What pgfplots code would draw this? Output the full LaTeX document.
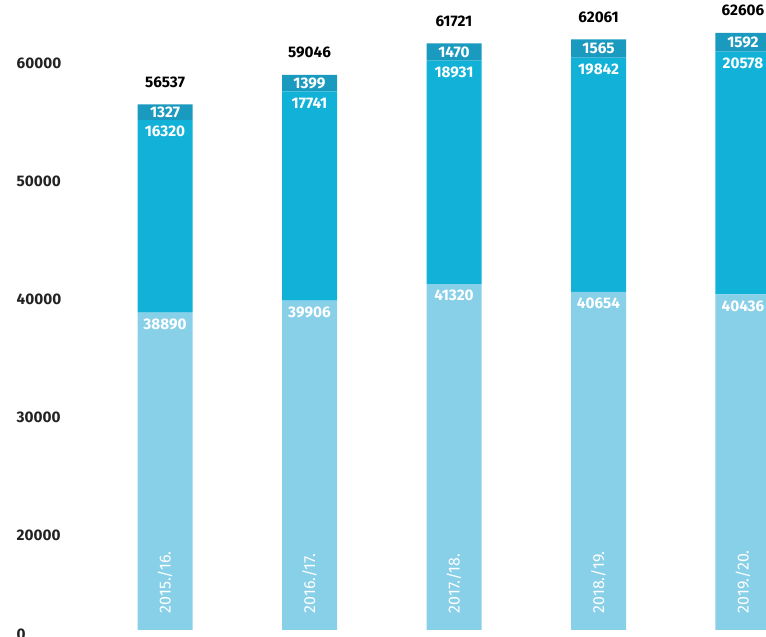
\documentclass[border=0pt]{standalone}
\usepackage{fontspec}
\setmainfont{Fira Sans}
\usepackage{pgfplots}
\usepackage{pgfplotstable}
\pgfplotsset{compat=1.18}

\definecolor{lightbar}{HTML}{88CFE8}
\definecolor{midbar}{HTML}{12B1D7}
\definecolor{darkbar}{HTML}{1B9AC0}
\definecolor{ticktext}{HTML}{222222}

% x = school year index, a = light part, b = middle part, c = top part, t = total
\pgfplotstableread{
x a b c t
0 38890 16320 1327 56537
1 39906 17741 1399 59046
2 41320 18931 1470 61721
3 40654 19842 1565 62061
4 40436 20578 1592 62606
}\students

\tikzset{numfont/.style={font=\fontsize{11.5}{13}\selectfont\bfseries}}
\pgfplotsset{
  frame/.style={
    scale only axis,
    width=574.5pt, height=472.5pt,
    xmin=-1.1419, xmax=4.1592,
    ymin=12000, ymax=65390,
    /pgf/number format/1000 sep={},
    /pgf/number format/assume math mode=true,
  },
}

\begin{document}
\begin{tikzpicture}
\begin{axis}[
  frame, name=ax,
  ybar stacked, bar width=41.25pt,
  axis line style={draw=none},
  tick style={draw=none},
  axis on top,
  xtick={0,1,2,3,4},
  xticklabels={2015./16.,2016./17.,2017./18.,2018./19.,2019./20.},
  xticklabel style={rotate=90, anchor=west, text=white,
    font=\fontsize{12}{14}\selectfont},
  xticklabel shift=-9pt,
  scaled y ticks=false,
  ytick={20000,30000,40000,50000,60000},
  extra y ticks={12000}, extra y tick labels={0},
  extra y tick style={yticklabel style={yshift=-3pt}},
  yticklabel style={anchor=west, xshift=9pt, text=ticktext, numfont},
]
\addplot[fill=lightbar, draw=none] table[x=x, y=a] {\students};
\addplot[fill=midbar, draw=none] table[x=x, y=b] {\students};
\addplot[fill=darkbar, draw=none, nodes near coords,
  every node near coord/.append style={anchor=center, text=white, numfont}]
  table[x=x, y=c] {\students};
\end{axis}
% labels at the top of the light and middle parts and the totals
\begin{axis}[frame, hide axis, clip=false]
\addplot[draw=none, mark=none, nodes near coords, point meta=explicit,
  every node near coord/.append style={anchor=north, yshift=-1pt, text=white, numfont}]
  table[x=x, y=a, meta=a] {\students};
\addplot[draw=none, mark=none, nodes near coords, point meta=explicit,
  every node near coord/.append style={anchor=north, yshift=-1pt, text=white, numfont}]
  table[x=x, y expr=\thisrow{a}+\thisrow{b}, meta=b] {\students};
\addplot[draw=none, mark=none, nodes near coords, point meta=explicit,
  every node near coord/.append style={anchor=south, yshift=9pt, text=black, numfont}]
  table[x=x, y=t, meta=t] {\students};
\end{axis}
\pgfresetboundingbox
\path[use as bounding box] ([yshift=-5.25pt]ax.south west) rectangle (ax.north east);
\end{tikzpicture}
\end{document}
